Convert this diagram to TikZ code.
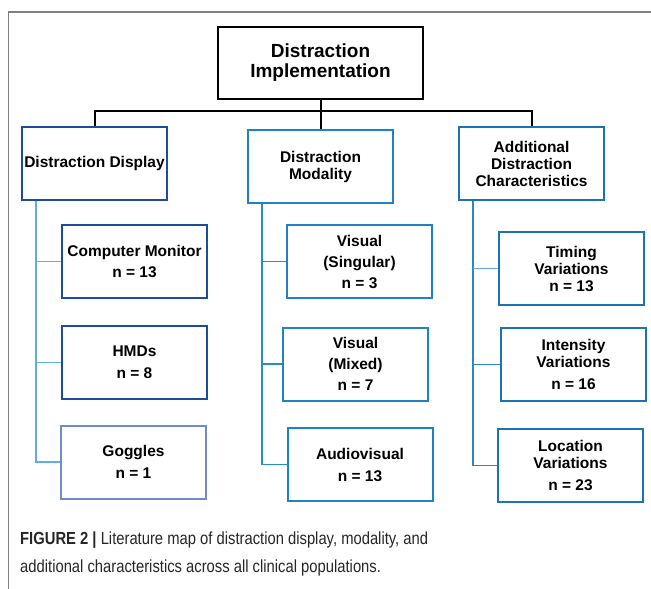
\documentclass[tikz,border=0pt]{standalone}
\usepackage{fontspec}
\setmainfont{Liberation Sans}
\newfontfamily\capfont[FakeStretch=0.845]{Liberation Sans}
\usetikzlibrary{positioning}

\definecolor{dispblue}{RGB}{30,75,155}
\definecolor{goggblue}{RGB}{110,140,200}
\definecolor{modblue}{RGB}{30,130,195}
\definecolor{addblue}{RGB}{25,115,180}
\definecolor{displine}{RGB}{95,175,220}
\definecolor{modline}{RGB}{40,140,200}
\definecolor{addline}{RGB}{45,135,195}

\tikzset{
  box/.style={draw, line width=2pt, minimum width=145pt, minimum height=73pt,
    align=center, inner sep=0pt,
    font=\bfseries\fontsize{15.5}{17}\selectfont},
  tline/.style={line width=2pt, black},
}

\begin{document}
\begin{tikzpicture}[x=1pt,y=-1pt]

\useasboundingbox (0,0) rectangle (651,589);

% frame
\draw[gray, line width=1.3pt] (651,12) -- (8.5,12) -- (8.5,589);

% top level
\node[box, black, text=black, minimum width=205pt, minimum height=72pt,
  font=\bfseries\fontsize{19}{20}\selectfont] (root) at (320.5,63)
  {Distraction\\Implementation};

\node[box, dispblue, text=black] (disp) at (94.5,163.5) {Distraction Display};
\node[box, modblue, text=black] (moda) at (320.5,166.5) {Distraction\\Modality};
\node[box, addblue, text=black] (addc) at (531.5,163.5)
  {Additional\\Distraction\\Characteristics};

\coordinate (bar) at (0,111);
\draw[tline] (disp.north) -- (disp.north |- bar) -| (addc.north);
\draw[tline] (root.south) -- (moda.north);

% display
\node[box, dispblue, text=black] (cmon) at (134.5,261.5) {Computer Monitor\\[4pt]n = 13};
\node[box, dispblue, text=black] (hmds) at (134.5,362.5) {HMDs\\[5pt]n = 8};
\node[box, goggblue, text=black] (gogg) at (133.5,462) {Goggles\\[5pt]n = 1};

\coordinate (dtrunk) at ([xshift=15pt]disp.south west);
\draw[displine, line width=1.5pt] (dtrunk) |- (gogg.west);
\draw[displine, line width=1.5pt] (cmon.west) -- (cmon.west -| dtrunk);
\draw[displine, line width=1.5pt] (hmds.west) -- (hmds.west -| dtrunk);

% modality
\node[box, modblue, text=black] (vsing) at (359.5,261.5) {Visual\\[4pt](Singular)\\[4pt]n = 3};
\node[box, modblue, text=black] (vmix) at (355.5,364) {Visual\\[4pt](Mixed)\\[4pt]n = 7};
\node[box, modblue, text=black] (avis) at (360,464.5) {Audiovisual\\[5pt]n = 13};

\coordinate (mtrunk) at ([xshift=15pt]moda.south west);
\draw[modline, line width=1.8pt] (mtrunk) |- (avis.west);
\draw[modline, line width=1.5pt] (vsing.west) -- (vsing.west -| mtrunk);
\draw[modline, line width=1.5pt] (vmix.west) -- (vmix.west -| mtrunk);

% additional characteristics
\node[box, addblue, text=black] (timv) at (571.5,268.5) {Timing\\Variations\\n = 13};
\node[box, addblue, text=black] (intv) at (573.5,364.5) {Intensity\\Variations\\[5pt]n = 16};
\node[box, addblue, text=black] (locv) at (570.5,465.5) {Location\\Variations\\[5pt]n = 23};

\coordinate (atrunk) at ([xshift=15pt]addc.south west);
\draw[addline, line width=1.8pt] (atrunk) |- (locv.west);
\draw[displine, line width=1.5pt] (timv.west) -- (timv.west -| atrunk);
\draw[addline, line width=1.5pt] (intv.west) -- (intv.west -| atrunk);

% caption
\node[anchor=north west, align=left, inner sep=0pt, text=black!85,
  font=\capfont\fontsize{17.5}{28}\selectfont] (caption) at (20,532)
  {\textbf{FIGURE 2 |} Literature map of distraction display, modality, and\\
   additional characteristics across all clinical populations.};

\end{tikzpicture}
\end{document}
